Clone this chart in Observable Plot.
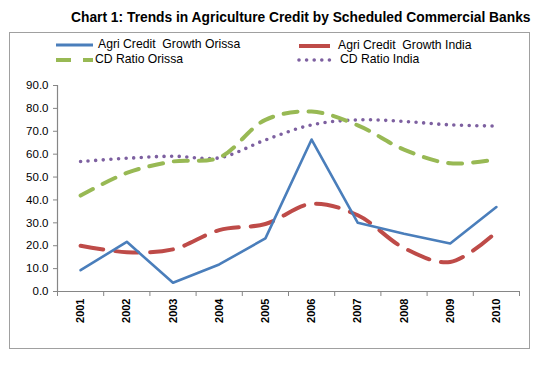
<!DOCTYPE html>
<html>
<head>
<meta charset="utf-8">
<script src="https://cdn.jsdelivr.net/npm/d3@7"></script>
<script src="https://cdn.jsdelivr.net/npm/@observablehq/plot@0.6"></script>
<style>
  body { margin: 0; background: #fff; }
  #wrap { position: relative; width: 543px; height: 365px; font-family: Arial, "Liberation Sans", sans-serif; overflow: hidden; }
  #title { position: absolute; left: 71px; top: 10px; font-weight: bold; font-size: 13.8px; white-space: pre; color: #000; }
  #frame { position: absolute; left: 9px; top: 32px; width: 519px; height: 315px; border: 1px solid #a0a0a0; box-sizing: content-box; }
  #chart { position: absolute; left: 0; top: 0; }
  .lg { position: absolute; font-size: 12.2px; white-space: pre; color: #000; line-height: 14px; }
  #legendsvg { position: absolute; left: 0; top: 0; }
</style>
</head>
<body>
<div id="wrap">
  <div id="chart"></div>
  <div id="frame"></div>
  <div id="title"></div>
  <svg id="legendsvg" width="543" height="80"></svg>
</div>
<script>
const titleText = "Chart 1: Trends in Agriculture Credit by Scheduled Commercial Banks";
const years = [2001, 2002, 2003, 2004, 2005, 2006, 2007, 2008, 2009, 2010];
const agriOrissa = [9.3, 21.7, 3.8, 11.8, 23.2, 66.4, 30.0, 25.2, 21.0, 36.9];
const agriIndia  = [20.0, 17.2, 18.4, 26.8, 29.5, 38.3, 33.3, 19.0, 12.9, 26.0];
const cdOrissa   = [41.9, 51.8, 56.8, 58.5, 75.0, 78.6, 72.6, 62.0, 56.0, 57.8];
const cdIndia    = [56.8, 58.2, 59.1, 58.4, 66.2, 72.8, 75.0, 74.3, 72.8, 72.3];
const seriesNames = ["Agri Credit  Growth Orissa", "Agri Credit  Growth India", "CD Ratio Orissa", "CD Ratio India"];
const yTicks = d3.range(0, 91, 10);

document.getElementById("title").textContent = titleText;

const C = {blue: "#4A7EBB", red: "#BE4B48", green: "#98B954", purple: "#7D60A0"};
const styles = [
  {stroke: C.blue, strokeWidth: 2.6, curve: "linear"},
  {stroke: C.red, strokeWidth: 4, strokeDasharray: "23,12", curve: "catmull-rom"},
  {stroke: C.green, strokeWidth: 4, strokeDasharray: "14,11", curve: "catmull-rom"},
  {stroke: C.purple, strokeWidth: 3.6, strokeDasharray: "0,7.6", strokeLinecap: "round", curve: "catmull-rom"}
];
const values = [agriOrissa, agriIndia, cdOrissa, cdIndia];
const rows = (v) => years.map((yr, i) => ({year: yr, value: v[i]}));

const axisGray = "#868686";
const plot = Plot.plot({
  width: 543,
  height: 365,
  marginLeft: 57,
  marginRight: 24,
  marginTop: 85,
  marginBottom: 74,
  style: {background: "transparent", fontFamily: "Arial, 'Liberation Sans', sans-serif", overflow: "visible"},
  x: {type: "linear", domain: [2000.5, 2010.5]},
  y: {domain: [0, 90]},
  marks: [
    Plot.axisY({ticks: yTicks, tickFormat: d3.format(".1f"), tickSize: 4, tickPadding: 5, stroke: axisGray, fill: "#000", fontSize: 11.5, label: null}),
    Plot.axisX({ticks: d3.range(2000.5, 2011, 1), tickFormat: () => "", tickSize: 5, stroke: axisGray, label: null}),
    Plot.axisX({ticks: years, tickFormat: d => String(d), tickSize: 0, tickPadding: 7, tickRotate: -90, fontWeight: "bold", fontSize: 11, fill: "#000", label: null}),
    Plot.ruleX([2000.5], {y1: 0, y2: 90, stroke: axisGray, strokeWidth: 1.2}),
    Plot.ruleY([0], {x1: 2000.5, x2: 2010.5, stroke: axisGray, strokeWidth: 1.2}),
    ...[3, 2, 1, 0].map(k => Plot.line(rows(values[k]), {x: "year", y: "value", ...styles[k]}))
  ]
});
document.getElementById("chart").appendChild(plot);

// Legend
const lg = d3.select("#legendsvg");
const legendPos = [
  {x1: 56, x2: 93, y: 45, tx: 98},
  {x1: 299, x2: 330, y: 46, tx: 338},
  {x1: 56, x2: 93, y: 60, tx: 95},
  {x1: 299, x2: 332, y: 60, tx: 340}
];
const legendDash = [null, null, "15,12", "0,7.6"];
seriesNames.forEach((name, k) => {
  const p = legendPos[k];
  lg.append("line")
    .attr("x1", p.x1).attr("x2", p.x2).attr("y1", p.y).attr("y2", p.y)
    .attr("stroke", styles[k].stroke)
    .attr("stroke-width", k === 0 ? 3 : styles[k].strokeWidth)
    .attr("stroke-dasharray", legendDash[k])
    .attr("stroke-linecap", k === 3 ? "round" : "butt");
  const d = document.createElement("div");
  d.className = "lg";
  d.textContent = name;
  d.style.left = p.tx + "px";
  d.style.top = (p.y - 8) + "px";
  document.getElementById("wrap").appendChild(d);
});
</script>
</body>
</html>
